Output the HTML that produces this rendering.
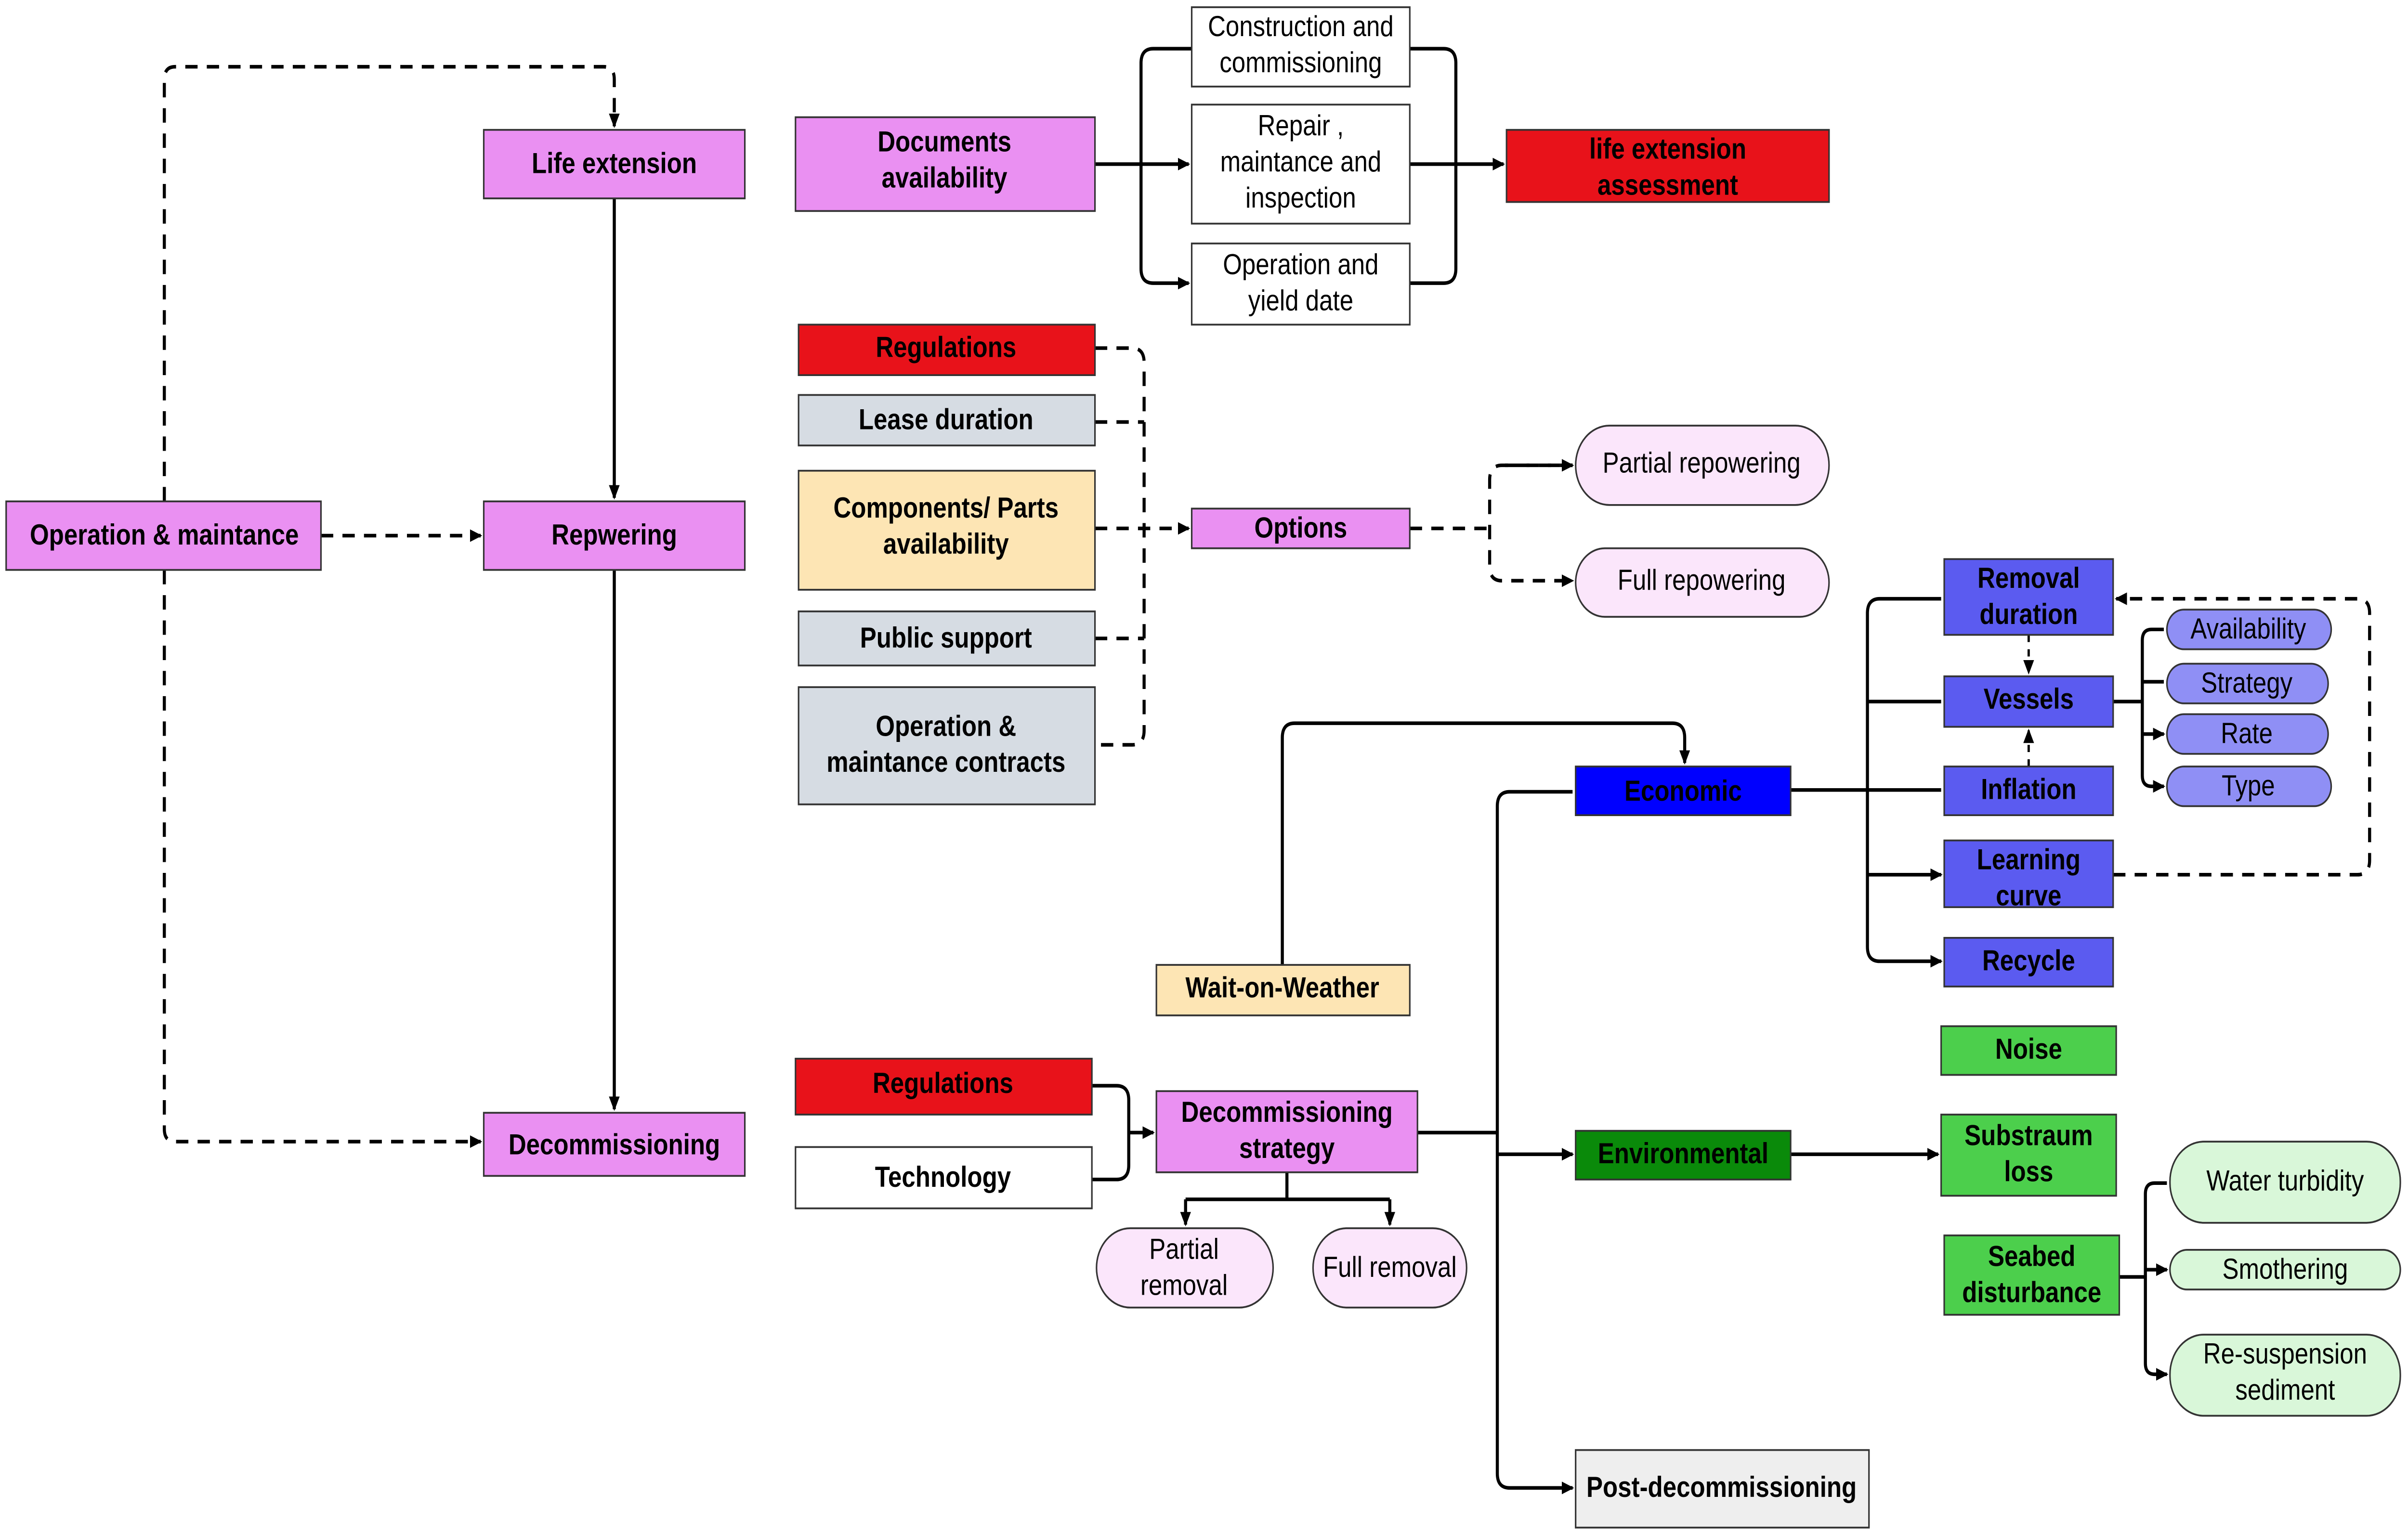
<!DOCTYPE html>
<html><head><meta charset="utf-8"><style>html,body{margin:0;padding:0;background:#fff;width:100%;height:100%;overflow:hidden}svg{display:block;position:fixed;left:0;top:0;width:100vw;height:100vh}</style></head>
<body>
<svg xmlns="http://www.w3.org/2000/svg" viewBox="0 0 1568 850" preserveAspectRatio="none" font-family="Liberation Sans, sans-serif">
<defs>
<marker id="a" markerWidth="8" markerHeight="8" refX="7" refY="4" orient="auto" markerUnits="userSpaceOnUse"><path d="M0,0.5 L8,4 L0,7.5 z" fill="#000"/></marker>
</defs>
<rect width="1568" height="850" fill="#fff"/>
<g fill="none" stroke="#000" stroke-width="2">
<path d="M107,278 V44 Q107,37 114,37 H393 Q400,37 400,44 V70" stroke-dasharray="8,6" marker-end="url(#a)"/>
<path d="M209,297 H313" stroke-dasharray="8,6" marker-end="url(#a)"/>
<path d="M107,316 V626 Q107,633 114,633 H313" stroke-dasharray="8,6" marker-end="url(#a)"/>
<path d="M400,110 V276" marker-end="url(#a)"/>
<path d="M400,316 V615" marker-end="url(#a)"/>
<path d="M713,91 H743"/>
<path d="M776,27 H751 Q743,27 743,35 V149 Q743,157 751,157 H774" marker-end="url(#a)"/>
<path d="M743,91 H774" marker-end="url(#a)"/>
<path d="M918,27 H940 Q948,27 948,35 V149 Q948,157 940,157 H918"/>
<path d="M918,91 H979" marker-end="url(#a)"/>
<path d="M713,193 H737 Q745,193 745,201 V405 Q745,413 737,413 H713" stroke-dasharray="8,6"/>
<path d="M713,234 H745 M713,354 H745" stroke-dasharray="8,6"/>
<path d="M713,293 H774" stroke-dasharray="8,6" marker-end="url(#a)"/>
<path d="M918,293 H970" stroke-dasharray="8,6"/>
<path d="M1024,258 H978 Q970,258 970,266 V314 Q970,322 978,322 H1024" stroke-dasharray="8,6" marker-end="url(#a)"/>
<path d="M980,258 H1024" stroke-dasharray="8,6" marker-end="url(#a)"/>
<path d="M835,535 V409 Q835,401 843,401 H1089 Q1097,401 1097,409 V423" marker-end="url(#a)"/>
<path d="M711,602 H727 Q735,602 735,610 V646 Q735,654 727,654 H711"/>
<path d="M735,628 H751" marker-end="url(#a)"/>
<path d="M838,650 V665 M772,665 H905"/>
<path d="M772,665 V679" marker-end="url(#a)"/>
<path d="M905,665 V679" marker-end="url(#a)"/>
<path d="M923,628 H975"/>
<path d="M1024,439 H983 Q975,439 975,447 V817 Q975,825 983,825 H1024" marker-end="url(#a)"/>
<path d="M975,640 H1024" marker-end="url(#a)"/>
<path d="M1166,640 H1262" marker-end="url(#a)"/>
<path d="M1166,438 H1216"/>
<path d="M1264,332 H1224 Q1216,332 1216,340 V525 Q1216,533 1224,533 H1264" marker-end="url(#a)"/>
<path d="M1216,389 H1264 M1216,438 H1264 M1216,485 H1264" marker-end="url(#a)"/>
<path d="M1321,352 V373" stroke-dasharray="4,4" stroke-width="1.5" marker-end="url(#a)"/>
<path d="M1321,425 V405" stroke-dasharray="4,4" stroke-width="1.5" marker-end="url(#a)"/>
<path d="M1376,485 H1535 Q1543,485 1543,477 V340 Q1543,332 1535,332 H1378" stroke-dasharray="8,6" marker-end="url(#a)"/>
<path d="M1376,389 H1395"/>
<path d="M1409,349 H1401 Q1395,349 1395,355 V430 Q1395,436 1401,436 H1409" marker-end="url(#a)"/>
<path d="M1395,378 H1409 M1395,407 H1409" marker-end="url(#a)"/>
<path d="M1380,708 H1397"/>
<path d="M1411,656 H1403 Q1397,656 1397,662 V756 Q1397,762 1403,762 H1411" marker-end="url(#a)"/>
<path d="M1397,704 H1411" marker-end="url(#a)"/>
</g>
<g stroke="#333" stroke-width="1">
<rect x="315" y="72" width="170" height="38" fill="#ea90f2"/>
<rect x="315" y="278" width="170" height="38" fill="#ea90f2"/>
<rect x="315" y="617" width="170" height="35" fill="#ea90f2"/>
<rect x="4" y="278" width="205" height="38" fill="#ea90f2"/>
<rect x="518" y="65" width="195" height="52" fill="#ea90f2"/>
<rect x="776" y="4" width="142" height="44" fill="#fff"/>
<rect x="776" y="58" width="142" height="66" fill="#fff"/>
<rect x="776" y="135" width="142" height="45" fill="#fff"/>
<rect x="981" y="72" width="210" height="40" fill="#e8121a"/>
<rect x="520" y="180" width="193" height="28" fill="#e8121a"/>
<rect x="520" y="219" width="193" height="28" fill="#d6dce3"/>
<rect x="520" y="261" width="193" height="66" fill="#fde5b4"/>
<rect x="520" y="339" width="193" height="30" fill="#d6dce3"/>
<rect x="520" y="381" width="193" height="65" fill="#d6dce3"/>
<rect x="776" y="282" width="142" height="22" fill="#ea90f2"/>
<rect x="1026" y="236" width="165" height="44" rx="22" fill="#fbe6fb"/>
<rect x="1026" y="304" width="165" height="38" rx="19" fill="#fbe6fb"/>
<rect x="753" y="535" width="165" height="28" fill="#fde5b4"/>
<rect x="1026" y="425" width="140" height="27" fill="#0000ff"/>
<rect x="518" y="587" width="193" height="31" fill="#e8121a"/>
<rect x="518" y="636" width="193" height="34" fill="#fff"/>
<rect x="753" y="605" width="170" height="45" fill="#ea90f2"/>
<rect x="714" y="681" width="115" height="44" rx="22" fill="#fbe6fb"/>
<rect x="855" y="681" width="100" height="44" rx="22" fill="#fbe6fb"/>
<rect x="1026" y="627" width="140" height="27" fill="#0a8a0a"/>
<rect x="1026" y="804" width="191" height="43" fill="#eeeeee"/>
<rect x="1266" y="310" width="110" height="42" fill="#5b5bf0"/>
<rect x="1266" y="375" width="110" height="28" fill="#5b5bf0"/>
<rect x="1266" y="425" width="110" height="27" fill="#5b5bf0"/>
<rect x="1266" y="466" width="110" height="37" fill="#5b5bf0"/>
<rect x="1266" y="520" width="110" height="27" fill="#5b5bf0"/>
<rect x="1411" y="338" width="107" height="22" rx="11" fill="#8f8ff5"/>
<rect x="1411" y="368" width="105" height="22" rx="11" fill="#8f8ff5"/>
<rect x="1411" y="396" width="105" height="22" rx="11" fill="#8f8ff5"/>
<rect x="1411" y="425" width="107" height="22" rx="11" fill="#8f8ff5"/>
<rect x="1264" y="569" width="114" height="27" fill="#4ccf4c"/>
<rect x="1264" y="618" width="114" height="45" fill="#4ccf4c"/>
<rect x="1266" y="685" width="114" height="44" fill="#4ccf4c"/>
<rect x="1413" y="633" width="150" height="45" rx="22" fill="#d9f7d9"/>
<rect x="1413" y="693" width="150" height="22" rx="11" fill="#d9f7d9"/>
<rect x="1413" y="740" width="150" height="45" rx="22" fill="#d9f7d9"/>
</g>
<g font-size="16" font-weight="bold" text-anchor="middle" fill="#000">
<text x="400" y="96">Life extension</text>
<text x="400" y="302">Repwering</text>
<text x="400" y="640">Decommissioning</text>
<text x="107" y="302">Operation &amp; maintance</text>
<text x="615" y="84">Documents</text><text x="615" y="104">availability</text>
<text x="1086" y="88">life extension</text><text x="1086" y="108">assessment</text>
<text x="616" y="198">Regulations</text>
<text x="616" y="238">Lease duration</text>
<text x="616" y="287">Components/ Parts</text><text x="616" y="307">availability</text>
<text x="616" y="359">Public support</text>
<text x="616" y="408">Operation &amp;</text><text x="616" y="428">maintance contracts</text>
<text x="847" y="298">Options</text>
<text x="835" y="553">Wait-on-Weather</text>
<text x="1096" y="444">Economic</text>
<text x="614" y="606">Regulations</text>
<text x="614" y="658">Technology</text>
<text x="838" y="622">Decommissioning</text><text x="838" y="642">strategy</text>
<text x="1096" y="645">Environmental</text>
<text x="1121" y="830">Post-decommissioning</text>
<text x="1321" y="326">Removal</text><text x="1321" y="346">duration</text>
<text x="1321" y="393">Vessels</text>
<text x="1321" y="443">Inflation</text>
<text x="1321" y="482">Learning</text><text x="1321" y="502">curve</text>
<text x="1321" y="538">Recycle</text>
<text x="1321" y="587">Noise</text>
<text x="1321" y="635">Substraum</text><text x="1321" y="655">loss</text>
<text x="1323" y="702">Seabed</text><text x="1323" y="722">disturbance</text>
</g>
<g font-size="16" text-anchor="middle" fill="#000">
<text x="847" y="20">Construction and</text><text x="847" y="40">commissioning</text>
<text x="847" y="75">Repair ,</text><text x="847" y="95">maintance and</text><text x="847" y="115">inspection</text>
<text x="847" y="152">Operation and</text><text x="847" y="172">yield date</text>
<text x="1108" y="262">Partial repowering</text>
<text x="1108" y="327">Full repowering</text>
<text x="771" y="698">Partial</text><text x="771" y="718">removal</text>
<text x="905" y="708">Full removal</text>
<text x="1464" y="354">Availability</text>
<text x="1463" y="384">Strategy</text>
<text x="1463" y="412">Rate</text>
<text x="1464" y="441">Type</text>
<text x="1488" y="660">Water turbidity</text>
<text x="1488" y="709">Smothering</text>
<text x="1488" y="756">Re-suspension</text><text x="1488" y="776">sediment</text>
</g>
</svg>
</body></html>
